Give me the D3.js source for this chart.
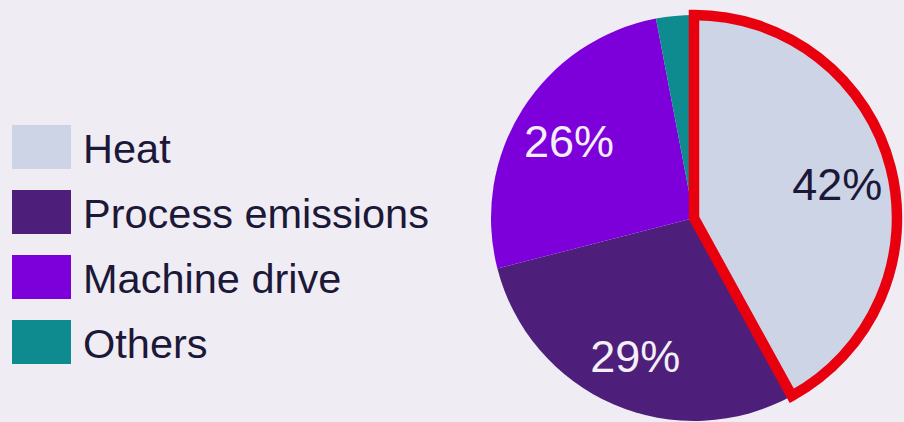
<!DOCTYPE html>
<html>
<head>
<meta charset="utf-8">
<script src="https://cdn.jsdelivr.net/npm/d3@7/dist/d3.min.js"></script>
<style>
  html, body { margin: 0; padding: 0; background: #f0ecf4; }
  svg { display: block; }
  text { font-family: "Liberation Sans", Arial, sans-serif; }
</style>
</head>
<body>
<svg id="chart" width="904" height="422"></svg>
<script>
const categories = ["Heat", "Process emissions", "Machine drive", "Others"];
const values = [42, 29, 26, 3];
const labels = ["42%", "29%", "26%", ""];
const colors = ["#cdd4e5", "#4e1f7a", "#7d00da", "#0d8b8f"];
const labelColors = ["#1b1838", "#f3eef8", "#f3eef8", "#f3eef8"];
const highlighted = "Heat";

const svg = d3.select("#chart");
svg.append("rect").attr("width", 904).attr("height", 422).attr("fill", "#f0ecf4");

const cx = 694, cy = 218, R = 203;
const data = categories.map((c, i) => ({ name: c, value: values[i], label: labels[i], color: colors[i], lc: labelColors[i] }));
const pie = d3.pie().sort(null).value(d => d.value);
const arcs = pie(data);
const arc = d3.arc().innerRadius(0).outerRadius(R);
const labelArc = d3.arc().innerRadius(148).outerRadius(148);

const g = svg.append("g").attr("transform", `translate(${cx},${cy})`);
const ordered = arcs.slice().sort((a, b) => (a.data.name === highlighted) - (b.data.name === highlighted));
g.selectAll("path.slice").data(ordered).join("path")
  .attr("class", "slice")
  .attr("d", arc)
  .attr("fill", d => d.data.color)
  .attr("stroke", d => d.data.name === highlighted ? "#e8000e" : "none")
  .attr("stroke-width", d => d.data.name === highlighted ? 10.5 : 0)
  .attr("stroke-linejoin", "miter");

g.selectAll("text.lbl").data(arcs.filter(d => d.data.label)).join("text")
  .attr("class", "lbl")
  .attr("x", d => labelArc.centroid(d)[0])
  .attr("y", d => labelArc.centroid(d)[1] + 3)
  .attr("text-anchor", "middle")
  .attr("dominant-baseline", "central")
  .attr("font-size", 45)
  .attr("fill", d => d.data.lc)
  .text(d => d.data.label);

const legend = svg.append("g");
const rowY = d3.scaleBand().domain(categories).range([125, 385]).paddingInner(0);
const lg = legend.selectAll("g").data(data).join("g")
  .attr("transform", d => `translate(12,${rowY(d.name)})`);
lg.append("rect").attr("width", 59).attr("height", 44).attr("fill", d => d.color);
lg.append("text").attr("x", 71).attr("y", 38)
  .attr("font-size", 41.5).attr("fill", "#1b1838")
  .text(d => d.name);
</script>
</body>
</html>
